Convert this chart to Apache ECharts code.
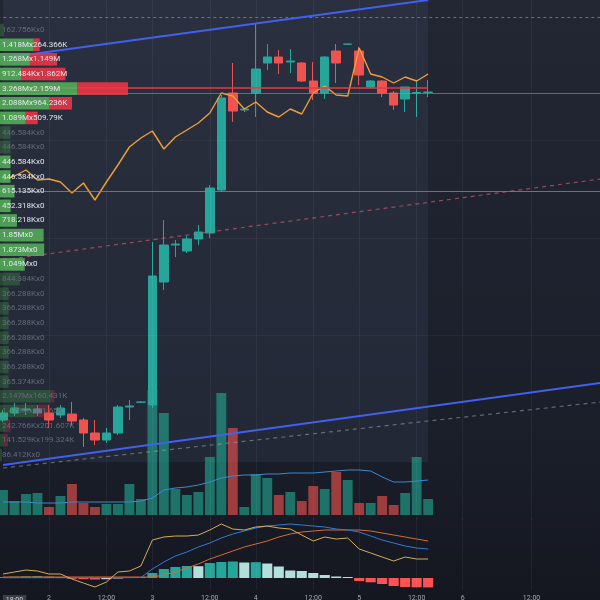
<!DOCTYPE html>
<html><head><meta charset="utf-8">
<script src="https://cdn.jsdelivr.net/npm/echarts@6/dist/echarts.min.js"></script>
<style>html,body{margin:0;padding:0;background:#161a24}#c{width:600px;height:600px}</style>
</head><body><div id="c"></div>
<script>
// ---------- DATA ----------
const barCount = 53; // slots on the time axis (38 candles + empty future slots)
const timeLabelAt = {1:'18:00', 4:'2', 9:'12:00', 13:'3', 18:'12:00', 22:'4', 27:'12:00', 31:'5', 36:'12:00', 40:'6', 46:'12:00'};
const cursorLabelIndex = 1;

const candleOpen  = [110.0,110.7,111.0,110.7,110.7,110.5,110.6,110.0,108.7,108.0,108.7,111.3,111.78,111.5,123.8,127.5,126.9,128.1,128.7,133.0,142.7,141.0,142.7,145.7,146.3,145.8,145.7,143.9,142.7,146.9,147.58,146.9,143.3,143.9,142.7,142.1,142.7,142.75];
const candleClose = [110.7,111.2,111.1,111.1,110.0,111.2,109.9,108.7,108.0,108.7,111.3,111.4,111.8,124.4,127.5,127.6,128.1,128.8,133.2,142.2,140.9,141.1,145.1,146.3,145.7,145.9,143.9,142.7,146.3,145.7,147.6,144.5,143.9,142.7,141.5,143.3,142.75,142.8];
const candleLow   = [109.8,110.4,110.5,110.4,109.2,110.2,109.4,107.3,107.5,107.7,108.5,110.0,111.7,111.2,123.0,126.3,126.7,127.5,128.2,132.8,139.8,140.8,140.3,145.0,144.6,144.7,143.8,142.0,142.1,143.7,147.5,143.5,143.2,142.3,141.0,140.8,140.3,142.3];
const candleHigh  = [111.0,111.7,111.7,111.5,111.5,111.5,111.8,110.2,110.0,109.2,111.5,112.0,111.9,127.8,130.0,128.0,128.4,129.5,133.5,142.5,145.7,141.2,149.7,147.6,147.0,147.1,145.8,145.8,146.4,147.6,147.6,147.3,144.0,144.0,142.9,143.3,144.0,144.0];

const compareLine = [134.0,134.4,135.0,134.0,134.1,133.8,132.7,133.7,132.0,133.8,135.5,137.3,138.2,138.9,137.1,138.3,139.0,139.7,140.7,142.7,142.4,141.1,141.8,140.8,140.3,141.1,140.6,142.7,143.4,142.5,142.4,147.2,144.6,144.3,143.7,144.3,143.9,144.6];

const volumes  = [200,112,168,176,64,152,248,96,64,88,88,248,128,1000,816,208,160,184,464,976,696,64,328,296,160,184,112,232,208,344,280,96,96,152,80,176,464,128];
const volumeMA = [104,104,104,96,96,96,104,104,104,104,104,104,112,136,200,216,224,240,264,296,312,320,320,328,328,336,336,336,344,352,360,360,352,304,264,264,272,280];

const macdLine   = [4,6,8,7,4,4,-1,-5,-9,-4,6,7,12,38,41,42,42,43,48,54,49,48,51,52,50,49,43,37,41,39,40,29,25,21,17,21,19,19];
const signalLine = [0.3,0.3,0.3,0.3,0.3,0.3,0.3,0.3,0.3,0.3,0.3,0.3,0.5,9,16,22,26,31,35,40,44,47,50,52,53,54,53,52,51,49,48,46,42,38,35,32,30,29];
const slowLine   = [1,1,1,1,1,1,1,1,1,1,1,1,1,1,3,6,10,14,19,23,27,31,34,37,41,44,46,47,48,48,48,48,47,45,43,41,39,37];
const macdHist   = [1,1.3,1.6,1.8,1.2,0.8,-0.8,-1.2,-1.5,-1.2,-0.5,0.5,1,5,9,11,12,11.8,15,16,16.5,15.5,15.8,14.5,11.5,7.5,7,5,3,1.5,1,-3,-4.3,-6,-8,-9,-9.3,-9.4];

// volume profile rows, top to bottom
const profileUp   = [162756,1418000,1268000,912484,3268000,2088000,1089000,446584,446584,446584,446584,615135,452318,718218,1850000,1873000,1049000,844384,366288,366288,366288,366288,366288,366288,365374,2147000,1478000,242766,141529,86412];
const profileDown = [0,264366,1149000,1862000,2159000,964236,509790,0,0,0,0,0,0,0,0,0,0,0,0,0,0,0,0,0,0,160431,631650,201607,199324,0];
const valueAreaRows = [1,2,3,4,5,6,9,10,11,12,13,14,15,16];
const pocPrice = 143.2;
const profileEndIndex = 37.35;
const profileBottomPrice = 105.8;

// drawn levels and trend lines: [index, price]
const upperChannel = [[-0.261,146.2],[36.55,152]];
const lowerChannel = [[-0.261,105.5],[51.96,113.7]];
const midDashed    = [[-0.261,126.0],[51.96,134.1]];
const lowDashed    = [[-0.261,105.2],[51.96,111.8]];
const topDashedLevel = 150.3;
const tealLevel = 142.7;
const greenLevel = 132.9;
const gridPrices = [138, 128.2, 118.5];

// ---------- CHART ----------
const UP = '#26a69a', DOWN = '#ef5350';
const cats = Array.from({length: barCount}, (_, i) => String(i));
const labelIdx = Object.keys(timeLabelAt).map(Number).filter(i => i !== cursorLabelIndex);

function fmt(v) {
  if (v >= 1e6) return +(v / 1e6).toFixed(3) + 'M';
  if (v >= 1e3) return +(v / 1e3).toFixed(3) + 'K';
  return String(v);
}

const candleData = candleOpen.map((o, i) => [o, candleClose[i], candleLow[i], candleHigh[i]]);
const isUp = candleOpen.map((o, i) => candleClose[i] >= o);

const volData = volumes.map((v, i) => ({value: v, itemStyle: {color: isUp[i] ? 'rgba(34,160,140,0.66)' : 'rgba(239,83,80,0.62)'}}));

const histData = macdHist.map((v, i) => {
  const prev = i > 0 ? macdHist[i - 1] : 0;
  let c;
  if (v >= 0) c = v > prev ? '#26a69a' : '#b2dfdb';
  else c = v < prev ? '#ff5252' : '#ffcdd2';
  return {value: v, itemStyle: {color: c}};
});

const inVA = i => valueAreaRows.indexOf(i) >= 0;
const profUpData = profileUp.map((v, i) => ({
  value: v,
  itemStyle: {color: inVA(i) ? 'rgba(86,180,90,0.85)' : 'rgba(76,175,80,0.28)'},
  label: {color: inVA(i) ? '#e4e6ec' : '#646a78'}
}));
const profDownData = profileDown.map((v, i) => ({
  value: v,
  itemStyle: {color: inVA(i) ? 'rgba(242,54,69,0.85)' : 'rgba(242,54,69,0.28)'}
}));

const seg = (pts, style) => [{coord: pts[0], lineStyle: style}, {coord: pts[1]}];

const mainMarkLines = [
  ...labelIdx.map(i => ({xAxis: i, lineStyle: {color: 'rgba(255,255,255,0.05)', width: 1, type: 'solid'}})),
  ...gridPrices.map(p => ({yAxis: p, lineStyle: {color: 'rgba(255,255,255,0.04)', width: 1, type: 'solid'}})),
  {yAxis: topDashedLevel, lineStyle: {color: 'rgba(190,195,205,0.45)', width: 1, type: [3, 3]}},
  {yAxis: tealLevel, lineStyle: {color: 'rgba(110,170,140,0.6)', width: 1, type: 'solid'}},
  {yAxis: greenLevel, lineStyle: {color: 'rgba(85,165,95,0.8)', width: 1, type: 'solid'}},
  seg([[-0.261, pocPrice], [profileEndIndex, pocPrice]], {color: '#e23a4a', width: 1.5, type: 'solid'}),
  seg(upperChannel, {color: '#4160ee', width: 2, type: 'solid'}),
  seg(lowerChannel, {color: '#4160ee', width: 2, type: 'solid'}),
  seg(midDashed, {color: 'rgba(220,90,110,0.65)', width: 1.2, type: [4, 4]}),
  seg(lowDashed, {color: 'rgba(170,175,185,0.5)', width: 1.2, type: [4, 4]})
];

const chart = echarts.init(document.getElementById('c'), null, {renderer: 'canvas'});
const GL = -2.74, GW = barCount * 11.49;
const gridBase = {outerBoundsMode: 'none', containLabel: false};

chart.setOption({
  animation: false,
  backgroundColor: new echarts.graphic.LinearGradient(0, 0, 0, 1, [
    {offset: 0, color: '#232734'}, {offset: 0.75, color: '#1a1e29'}, {offset: 1, color: '#141720'}
  ]),
  textStyle: {fontFamily: 'Roboto, sans-serif'},
  grid: [
    Object.assign({left: GL, top: 0, width: GW, height: 520}, gridBase),
    Object.assign({left: GL, top: 0, width: GW, height: 515}, gridBase),
    Object.assign({left: GL, top: 518, width: GW, height: 72}, gridBase),
    Object.assign({left: 0, top: 22.7, width: 600, height: 439.5}, gridBase)
  ],
  xAxis: [
    {type: 'category', gridIndex: 0, data: cats, show: false},
    {type: 'category', gridIndex: 1, data: cats, show: false},
    {type: 'category', gridIndex: 2, data: cats,
      axisLine: {show: false}, axisTick: {show: false}, splitLine: {show: false},
      axisLabel: {interval: 0, margin: 5, fontSize: 7, color: '#a3a6af',
        formatter: (v, i) => {
          const t = timeLabelAt[i] || '';
          return i === cursorLabelIndex ? '{box|' + t + '}' : t;
        },
        rich: {box: {backgroundColor: '#3a3e4a', color: '#d1d4dc', fontSize: 7, padding: [2, 3]}}
      }},
    {type: 'value', gridIndex: 3, min: 0, max: 25.44e6, show: false}
  ],
  yAxis: [
    {type: 'value', gridIndex: 0, min: 100, max: 152, show: false},
    {type: 'value', gridIndex: 1, min: 0, max: 4120, show: false},
    {type: 'value', gridIndex: 2, min: -12, max: 60, show: false},
    {type: 'category', gridIndex: 3, data: profileUp.map((_, i) => String(i)), inverse: true, show: false}
  ],
  series: [
    {type: 'bar', xAxisIndex: 1, yAxisIndex: 1, data: volData, barWidth: '86%', z: 1, silent: true},
    {type: 'line', xAxisIndex: 1, yAxisIndex: 1, data: volumeMA, symbol: 'none', z: 2,
      lineStyle: {color: '#3b8ad0', width: 1}},
    {type: 'candlestick', xAxisIndex: 0, yAxisIndex: 0, data: candleData, barWidth: '78%', z: 3,
      itemStyle: {color: UP, color0: DOWN, borderColor: UP, borderColor0: DOWN, borderWidth: 1},
      markArea: {silent: true, itemStyle: {color: 'rgba(120,140,190,0.09)'},
        data: [[{coord: [-0.5, 152]}, {coord: [profileEndIndex, profileBottomPrice]}]]},
      markLine: {silent: true, symbol: ['none', 'none'], label: {show: false}, animation: false,
        data: mainMarkLines}
    },
    {type: 'line', xAxisIndex: 0, yAxisIndex: 0, data: compareLine, symbol: 'none', z: 4,
      lineStyle: {color: '#ee9f35', width: 1.4}},
    {type: 'bar', xAxisIndex: 2, yAxisIndex: 2, data: histData, barWidth: '88%', z: 2,
      markLine: {silent: true, symbol: ['none', 'none'], label: {show: false},
        data: labelIdx.map(i => ({xAxis: i, lineStyle: {color: 'rgba(255,255,255,0.05)', width: 1, type: 'solid'}}))}},
    {type: 'line', xAxisIndex: 2, yAxisIndex: 2, data: slowLine, symbol: 'none', z: 3,
      lineStyle: {color: '#d96a35', width: 1}},
    {type: 'line', xAxisIndex: 2, yAxisIndex: 2, data: signalLine, symbol: 'none', z: 3,
      lineStyle: {color: '#2f7cd6', width: 1}},
    {type: 'line', xAxisIndex: 2, yAxisIndex: 2, data: macdLine, symbol: 'none', z: 4,
      lineStyle: {color: '#d4ad58', width: 1}},
    {type: 'bar', xAxisIndex: 3, yAxisIndex: 3, stack: 'vp', data: profUpData, barCategoryGap: '14%', z: 11,
      label: {show: true, position: 'insideLeft', distance: 2, fontSize: 8,
        formatter: p => fmt(profileUp[p.dataIndex]) + 'x' + fmt(profileDown[p.dataIndex])}},
    {type: 'bar', xAxisIndex: 3, yAxisIndex: 3, stack: 'vp', data: profDownData, barCategoryGap: '14%', z: 10}
  ]
});
</script>
</body></html>
